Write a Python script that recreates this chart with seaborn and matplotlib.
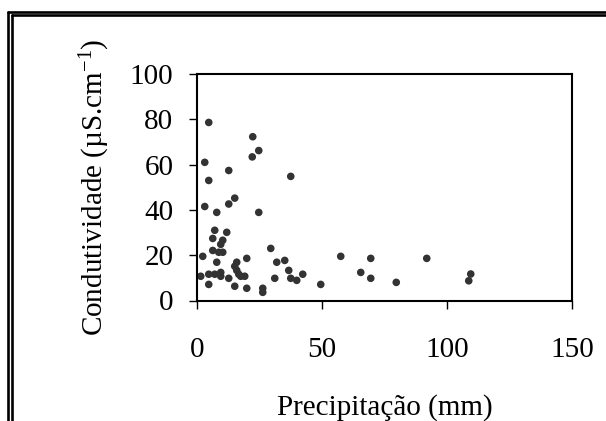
import matplotlib
matplotlib.use("Agg")
import matplotlib.pyplot as plt
from matplotlib.lines import Line2D
import seaborn as sns
import pandas as pd

precipitacao = [4.7, 22.3, 24.7, 22.1, 3.1, 12.7, 37.5, 4.7, 15.1, 12.7,
                3.1, 7.9, 24.7, 7.1, 11.9, 6.3, 10.3, 9.5, 6.3, 8.7,
                10.3, 2.3, 29.5, 19.9, 7.9, 15.9, 31.9, 35.1, 15.1, 36.7,
                15.9, 4.7, 7.1, 9.5, 9.5, 1.5, 16.7, 17.5, 19.1, 42.3,
                12.7, 31.1, 37.5, 39.9, 4.7, 49.5, 15.1, 19.9, 26.3, 26.3,
                57.5, 69.5, 65.5, 69.5, 91.9, 79.7, 109.5, 108.7]
condutividade = [78.6, 72.3, 66.2, 63.4, 61.0, 57.4, 54.8, 53.0, 45.2, 42.6,
                 41.5, 38.9, 38.9, 31.0, 30.1, 27.4, 26.6, 24.8, 22.1, 21.3,
                 21.3, 19.5, 23.0, 18.6, 16.9, 16.9, 16.9, 17.7, 15.1, 13.3,
                 13.3, 11.6, 11.6, 12.4, 10.7, 10.7, 11.6, 10.7, 10.7, 11.6,
                 9.8, 9.8, 9.8, 8.9, 7.1, 7.1, 6.3, 5.4, 5.4, 3.6,
                 19.5, 18.6, 12.4, 9.8, 18.6, 8.0, 11.7, 8.7]
x_ticks = [0, 50, 100, 150]
y_ticks = [0, 20, 40, 60, 80, 100]

df = pd.DataFrame({"Precipitação (mm)": precipitacao,
                   "Condutividade": condutividade})

sns.set_theme(style="white")
plt.rcParams["font.family"] = ["Liberation Serif", "DejaVu Serif"]
plt.rcParams["mathtext.fontset"] = "custom"
plt.rcParams["mathtext.rm"] = "Liberation Serif"
plt.rcParams["mathtext.default"] = "regular"

fig = plt.figure(figsize=(6.06, 4.21), dpi=100)
ax = fig.add_axes([197/606, 1-300.5/421, (572-197)/606, (300.5-74)/421])

sns.scatterplot(data=df, x="Precipitação (mm)", y="Condutividade", ax=ax,
                color="#333333", s=30, edgecolor="none", linewidth=0)

ax.set_xlim(0, 150)
ax.set_ylim(0, 100)
ax.set_xticks(x_ticks)
ax.set_yticks(y_ticks)
ax.set_xticklabels([str(t) for t in x_ticks])
ax.set_yticklabels([str(t) for t in y_ticks])
ax.tick_params(axis="both", which="major", labelsize=21, direction="out",
               length=6, width=1.0, color="black", colors="black")
ax.tick_params(axis="x", pad=20, bottom=True)
ax.tick_params(axis="y", pad=11, left=True)
for s in ax.spines.values():
    s.set_color("black")
    s.set_linewidth(1.5)
    s.set_visible(True)

ax.set_xlabel("Precipitação (mm)", fontsize=21, labelpad=23, color="black")
ax.set_ylabel(r"Condutividade (µS.cm$^{-1}$)", fontsize=21, labelpad=13,
              color="black")

# double frame around the chart
lw = 1.9
fig.add_artist(Line2D([8/606, 8/606], [1-12/421, 0], transform=fig.transFigure,
                      color="black", lw=lw))
fig.add_artist(Line2D([11.5/606, 11.5/606], [1-15/421, 0], transform=fig.transFigure,
                      color="black", lw=lw))
fig.add_artist(Line2D([8/606, 1], [1-12/421, 1-12/421], transform=fig.transFigure,
                      color="black", lw=lw))
fig.add_artist(Line2D([11.5/606, 1], [1-15/421, 1-15/421], transform=fig.transFigure,
                      color="black", lw=lw))

fig.savefig("out.png", dpi=100)
